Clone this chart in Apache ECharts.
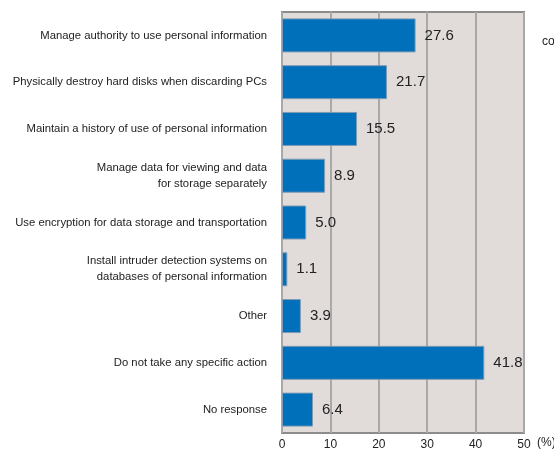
<!DOCTYPE html>
<html>
<head>
<meta charset="utf-8">
<script src="https://cdn.jsdelivr.net/npm/echarts@6/dist/echarts.min.js"></script>
<style>
html, body { margin: 0; padding: 0; background: #fff; }
#chart { width: 554px; height: 452px; }
</style>
</head>
<body>
<div id="chart"></div>
<script>
const categories = [
    'Manage authority to use personal information',
    'Physically destroy hard disks when discarding PCs',
    'Maintain a history of use of personal information',
    'Manage data for viewing and data\nfor storage separately',
    'Use encryption for data storage and transportation',
    'Install intruder detection systems on\ndatabases of personal information',
    'Other',
    'Do not take any specific action',
    'No response',
];
const values = [27.6, 21.7, 15.5, 8.9, 5.0, 1.1, 3.9, 41.8, 6.4];
const xTicks = [0, 10, 20, 30, 40, 50];

const chart = echarts.init(document.getElementById('chart'));
chart.setOption({
    animation: false,
    grid: {
        left: 282, right: 30, top: 12, bottom: 19,
        outerBoundsMode: 'none',
        show: true, backgroundColor: '#e1dcda', borderColor: '#8c8c8c', borderWidth: 2,
    },
    xAxis: {
        type: 'value',
        min: xTicks[0],
        max: xTicks[xTicks.length - 1],
        interval: 10,
        axisLine: { show: false },
        axisTick: { show: false },
        splitLine: { lineStyle: { color: '#a8a8a8', width: 2 } },
        axisLabel: {
            color: '#222',
            fontSize: 12,
            fontFamily: 'Liberation Sans',
            margin: 6,
        },
    },
    yAxis: {
        type: 'category',
        data: categories,
        inverse: true,
        axisLine: { show: false },
        axisTick: { show: false },
        axisLabel: {
            color: '#222',
            fontSize: 11.3,
            fontFamily: 'Liberation Sans',
            margin: 15,
            lineHeight: 16,
            align: 'right',
        },
    },
    series: [{
        type: 'bar',
        data: values,
        barWidth: 34,
        itemStyle: { color: '#0070bb', borderColor: '#7f9bb3', borderWidth: 1 },
        label: {
            show: true,
            position: 'right',
            distance: 9,
            color: '#222',
            fontSize: 15,
            fontFamily: 'Liberation Sans',
            formatter: p => p.value.toFixed(1),
        },
    }],
    graphic: [{
        type: 'text',
        left: 542,
        top: 36,
        style: { text: 'co', fontSize: 12, fontFamily: 'Liberation Sans', fill: '#222' },
    }, {
        type: 'text',
        left: 537,
        top: 437,
        style: { text: '(%)', fontSize: 12, fontFamily: 'Liberation Sans', fill: '#222' },
    }],
});
</script>
</body>
</html>
